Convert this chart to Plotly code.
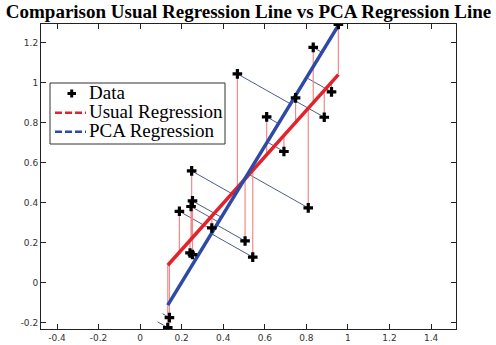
import numpy as np
import plotly.graph_objects as go

# data points
x_data = [0.133, 0.141, 0.189, 0.248, 0.252, 0.245, 0.240, 0.252, 0.345, 0.505,
          0.542, 0.468, 0.609, 0.692, 0.748, 0.809, 0.833, 0.886, 0.921, 0.954]
y_data = [-0.225, -0.175, 0.356, 0.558, 0.408, 0.380, 0.148, 0.140, 0.273, 0.208,
          0.127, 1.043, 0.828, 0.655, 0.923, 0.373, 1.175, 0.826, 0.953, 1.290]

x_ticks = [-0.4, -0.2, 0, 0.2, 0.4, 0.6, 0.8, 1.0, 1.2, 1.4]
x_tick_labels = ["-0.4", "-0.2", "0", "0.2", "0.4", "0.6", "0.8", "1", "1.2", "1.4"]
y_ticks = [-0.2, 0, 0.2, 0.4, 0.6, 0.8, 1.0, 1.2]
y_tick_labels = ["-0.2", "0", "0.2", "0.4", "0.6", "0.8", "1", "1.2"]

title_text = "Comparison Usual Regression Line vs PCA Regression Line"
legend_names = ["Data", "Usual Regression", "PCA Regression"]

X = np.array(x_data)
Y = np.array(y_data)
mx, my = X.mean(), Y.mean()

# usual least squares regression
b_ols = np.sum((X - mx) * (Y - my)) / np.sum((X - mx) ** 2)
a_ols = my - b_ols * mx

# PCA (total least squares) regression
C = np.cov(np.vstack([X - mx, Y - my]))
w, V = np.linalg.eigh(C)
v = V[:, np.argmax(w)]
b_pca = v[1] / v[0]

xl = np.array([X.min(), X.max()])
y_ols_line = a_ols + b_ols * xl
y_pca_line = my + b_pca * (xl - mx)

# projection segments
rx, ry = [], []
for xi, yi in zip(X, Y):
    rx += [xi, xi, None]
    ry += [yi, a_ols + b_ols * xi, None]

bx, by = [], []
for xi, yi in zip(X, Y):
    t = (xi - mx) * v[0] + (yi - my) * v[1]
    fx, fy = mx + t * v[0], my + t * v[1]
    bx += [xi, fx, None]
    by += [yi, fy, None]

RED = "#e3232b"
BLUE = "#2c4aa6"

W, H = 496, 345
ML, MR, MT, MB = 41, 40, 24, 16
PW, PH = W - ML - MR, H - MT - MB


def px(x):
    return (x - ML) / PW


def py(y):
    return 1 - (y - MT) / PH


fig = go.Figure()
fig.add_trace(go.Scatter(x=bx, y=by, mode="lines", line=dict(color="#4f5e8a", width=1),
                         showlegend=False, hoverinfo="skip"))
fig.add_trace(go.Scatter(x=rx, y=ry, mode="lines", line=dict(color="#f08a8a", width=1.2),
                         showlegend=False, hoverinfo="skip"))
fig.add_trace(go.Scatter(x=xl, y=y_ols_line, mode="lines", line=dict(color=RED, width=3.5),
                         name=legend_names[1], showlegend=False))
fig.add_trace(go.Scatter(x=xl, y=y_pca_line, mode="lines", line=dict(color=BLUE, width=3.5),
                         name=legend_names[2], showlegend=False))
fig.add_trace(go.Scatter(x=X, y=Y, mode="markers", name=legend_names[0], showlegend=False,
                         marker=dict(symbol="cross", size=8, color="black")))

# legend box drawn as shapes + text
shapes = [
    dict(type="rect", xref="paper", yref="paper", x0=px(50), x1=px(225), y0=py(144), y1=py(83),
         line=dict(color="#333", width=1), fillcolor="white", layer="above"),
    dict(type="line", xref="paper", yref="paper", x0=px(67.5), x1=px(76), y0=py(93.5), y1=py(93.5),
         line=dict(color="black", width=3), layer="above"),
    dict(type="line", xref="paper", yref="paper", x0=px(71.7), x1=px(71.7), y0=py(89.5), y1=py(97.5),
         line=dict(color="black", width=3), layer="above"),
    dict(type="line", xref="paper", yref="paper", x0=px(55), x1=px(86), y0=py(112.7), y1=py(112.7),
         line=dict(color=RED, width=2.5, dash="7px,3px"), layer="above"),
    dict(type="line", xref="paper", yref="paper", x0=px(55), x1=px(86), y0=py(131.7), y1=py(131.7),
         line=dict(color=BLUE, width=2.5, dash="7px,3px"), layer="above"),
]
annotations = []
for name, yc in zip(legend_names, [92.5, 111.5, 130.5]):
    annotations.append(dict(text=name, xref="paper", yref="paper", x=px(87), y=py(yc),
                            xanchor="left", yanchor="middle", showarrow=False,
                            font=dict(family="Liberation Serif", size=19, color="black")))

axis_common = dict(showline=True, linecolor="#222", linewidth=1, mirror="ticks",
                   ticks="inside", ticklen=5, tickcolor="#222", showgrid=False,
                   zeroline=False, tickfont=dict(family="DejaVu Sans", size=9, color="#333"),
                   automargin=False)

fig.update_layout(
    width=W, height=H,
    margin=dict(l=ML, r=MR, t=MT, b=MB),
    paper_bgcolor="white", plot_bgcolor="white",
    title=dict(text="<b>" + title_text + "</b>", x=0.5, xanchor="center", xref="paper",
               yref="container", y=1 - 11 / H, yanchor="middle",
               font=dict(family="Liberation Serif", size=19, color="black")),
    xaxis=dict(range=[-0.477, 1.52], tickvals=x_ticks, ticktext=x_tick_labels, **axis_common),
    yaxis=dict(range=[-0.232, 1.292], tickvals=y_ticks, ticktext=y_tick_labels, **axis_common),
    shapes=shapes,
    annotations=annotations,
    showlegend=False,
)

fig.write_html("out.html", config={"displayModeBar": False},
               post_script="document.body.style.margin='0';document.body.style.padding='0';")
